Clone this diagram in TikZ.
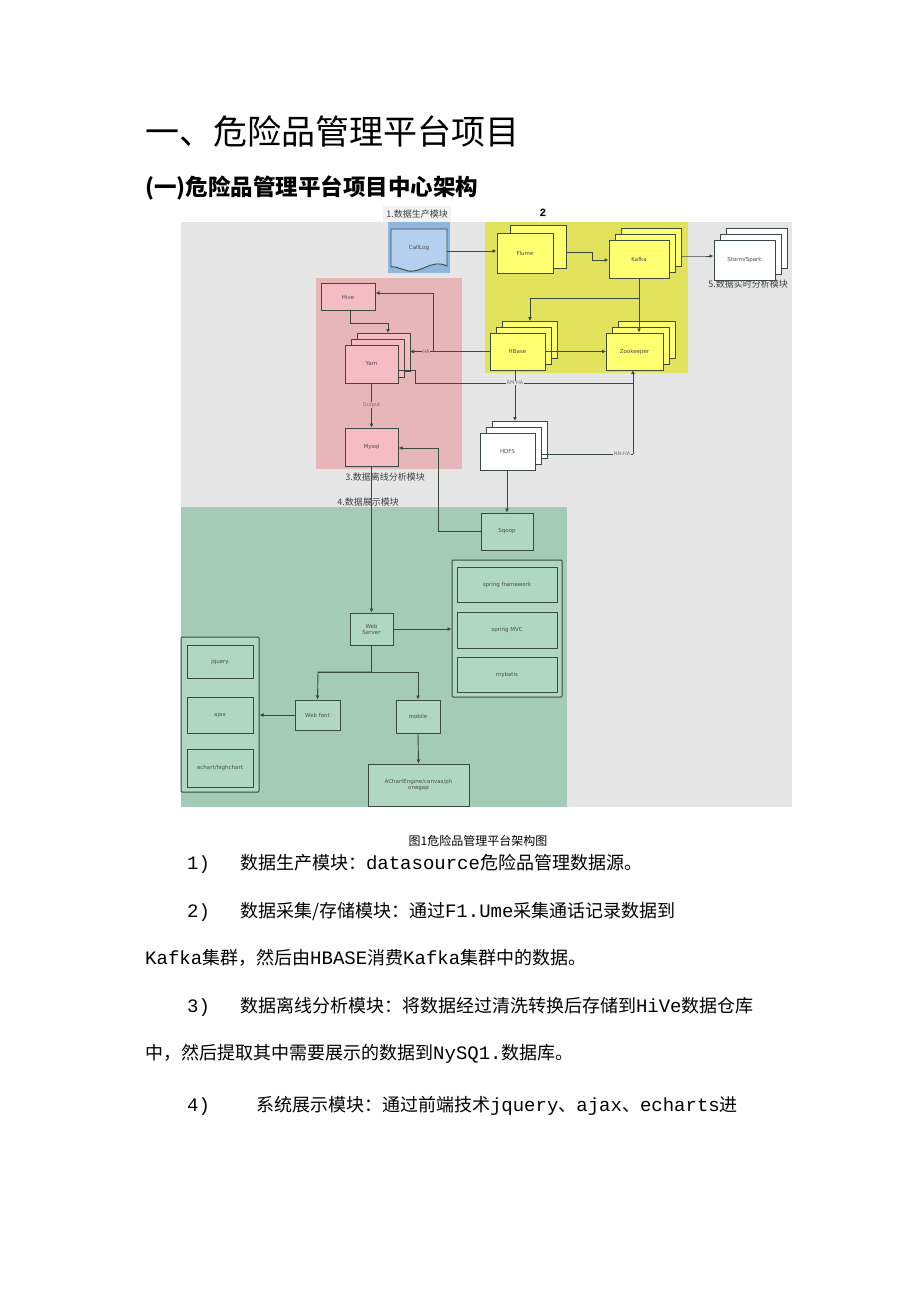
\documentclass[tikz,border=0pt]{standalone}
\usepackage{fontspec}
\setmainfont{Liberation Mono}
\newfontfamily\cjk{Noto Sans CJK SC}
\newfontfamily\monof{Liberation Mono}
\newfontfamily\ds{DejaVu Sans}
\usetikzlibrary{arrows.meta}
\definecolor{bgg}{HTML}{E6E6E6}
\definecolor{yb}{HTML}{E2E25C}
\definecolor{yn}{HTML}{FFFF70}
\definecolor{pb}{HTML}{E6B6B9}
\definecolor{pn}{HTML}{F6BCC4}
\definecolor{gb}{HTML}{A3CBB7}
\definecolor{gn}{HTML}{B0D6C4}
\definecolor{bb}{HTML}{8FB6DC}
\definecolor{bn}{HTML}{B4D0EE}
\definecolor{ln}{HTML}{3A4A40}
\newcommand{\m}[1]{{\monof\fontsize{19}{19}\selectfont #1}}
\begin{document}
\begin{tikzpicture}[x=1pt,y=-1pt,
  box/.style={draw=ln,line width=1pt,inner sep=1pt,font=\ds\fontsize{5.5}{6}\selectfont,align=center,text=black!70},
  arr/.style={draw=ln,line width=0.9pt,-{Latex[length=4pt,width=4pt]}},
  ln0/.style={draw=ln,line width=0.9pt},
  lab/.style={font=\cjk\fontsize{9}{10}\selectfont,text=black!75},
  body/.style={font=\cjk\fontsize{18}{19}\selectfont,anchor=west,inner sep=0}]
\useasboundingbox (0,0) rectangle (920,1301);
\fill[white] (0,0) rectangle (920,1301);
% titles
\node[anchor=west,inner sep=0,font=\cjk\fontsize{34}{34}\selectfont] at (145,132) {一、危险品管理平台项目};
\node[anchor=west,inner sep=0,font=\cjk\bfseries\fontsize{22.5}{23}\selectfont] at (145,188) {(一)危险品管理平台项目中心架构};
% backgrounds
\fill[bgg] (181,222) rectangle (792,807);
\fill[bb] (388,222) rectangle (450,273);
\fill[yb] (485,222) rectangle (688,373);
\fill[pb] (316,278) rectangle (462,469);
\fill[gb] (181,507) rectangle (567,807);
\node[lab,fill=white!90!gray] at (417,214) {1.数据生产模块};
\node[font=\bfseries\fontsize{11}{11}\selectfont,fill=white!90!gray,inner sep=1pt] at (543,213) {2};
\node[lab] at (748,284) {5.数据实时分析模块};
\node[lab] at (385,477) {3.数据离线分析模块};
\node[lab] at (368,502) {4.数据展示模块};
% CallLog
\draw[ln0,fill=bn] (391,229) -- (447,229) -- (447,266) .. controls (430,258) and (420,276) .. (405,270) .. controls (398,268) and (394,266) .. (391,267) -- cycle;
\node[box,draw=none,fill=none] (call) at (419,248) {CallLog};
\coordinate (callR) at (447,251);
% stacked
\draw[ln0,fill=yn] (510,225) rectangle (566,268);
\node[box,fill=yn,minimum width=56,minimum height=40] (flume) at (525,253) {Flume};
\foreach \d in {12,6}{\draw[ln0,fill=yn] (609+\d,240-\d) rectangle (669+\d,278-\d);}
\node[box,fill=yn,minimum width=60,minimum height=38] (kafka) at (639,259) {Kafka};
\foreach \d in {12,6}{\draw[ln0,fill=white] (714+\d,240-\d) rectangle (775+\d,280-\d);}
\node[box,fill=white,minimum width=61,minimum height=40] (storm) at (744.5,260) {Storm/Spark};
\node[box,fill=pn,minimum width=54,minimum height=27] (hive) at (348,297) {Hive};
\foreach \d in {12,6}{\draw[ln0,fill=pn] (345+\d,345-\d) rectangle (398+\d,383-\d);}
\node[box,fill=pn,minimum width=53,minimum height=38] (yarn) at (371.5,364) {Yarn};
\node[box,fill=pn,minimum width=53,minimum height=38] (mysql) at (371.5,447) {Mysql};
\foreach \d in {12,6}{\draw[ln0,fill=yn] (490+\d,333-\d) rectangle (545+\d,370-\d);}
\node[box,fill=yn,minimum width=55,minimum height=37] (hbase) at (517.5,351.5) {HBase};
\foreach \d in {12,6}{\draw[ln0,fill=yn] (606+\d,333-\d) rectangle (663+\d,370-\d);}
\node[box,fill=yn,minimum width=57,minimum height=37] (zk) at (634.5,351.5) {Zookeeper};
\foreach \d in {12,6}{\draw[ln0,fill=white] (480+\d,433-\d) rectangle (535+\d,470-\d);}
\node[box,fill=white,minimum width=55,minimum height=37] (hdfs) at (507.5,451.5) {HDFS};
\node[box,fill=gn,minimum width=52,minimum height=37] (sqoop) at (507,531.5) {Sqoop};
\node[box,fill=gn,minimum width=110,minimum height=137,rounded corners=1pt] (spring) at (507,628.5) {};
\node[box,fill=gn,minimum width=100,minimum height=35] (sf) at (507,584.5) {spring framework};
\node[box,fill=gn,minimum width=100,minimum height=36] (smvc) at (507,630) {spring MVC};
\node[box,fill=gn,minimum width=100,minimum height=35] (mb) at (507,674.5) {mybatis};
\node[box,fill=gn,minimum width=43,minimum height=32] (web) at (371.5,629) {Web\\Server};
\node[box,fill=gn,minimum width=45,minimum height=30] (wf) at (317.5,715) {Web font};
\node[box,fill=gn,minimum width=44,minimum height=33] (mob) at (418,716.5) {mobile};
\node[box,fill=gn,minimum width=101,minimum height=42] (ach) at (418.5,785) {AChartEngine/canvas/ph\\onegap};
\node[box,fill=gn,minimum width=78,minimum height=155,rounded corners=1pt] (left) at (220,714.5) {};
\node[box,fill=gn,minimum width=66,minimum height=33] (jq) at (220,661.5) {jquery};
\node[box,fill=gn,minimum width=66,minimum height=36] (ajax) at (220,715) {ajax};
\node[box,fill=gn,minimum width=66,minimum height=38] (ec) at (220,768) {echart/highchart};
% connectors
\draw[arr] (callR) -- (flume.west |- callR);
\draw[arr] (566,252) -- (592,252) -- (592,260) -- (kafka.west |- 0,260);
\draw[arr] (681,256) -- (702,256) -- (storm.west |- 0,256);
\draw[arr] (kafka.south) -- (zk.north -| kafka.south);
\draw[arr] (640,298) -- (530,298) -- (530,321);
\draw[arr] (hbase.east) -- (606,351.5);
\draw[arr] (hbase.west) -- (410,351.5);
\node[font=\ds\fontsize{5}{5}\selectfont,text=black!60,fill=pb,inner sep=0.5pt] at (426,351.5) {HA};
\draw[arr] (433,351.5) -- (433,293) -- (hive.east |- 0,293);
\draw[arr] (350,310.5) -- (350,323) -- (388,323) -- (388,333);
\draw[ln0] (398,370) -- (415,370) -- (415,383) -- (633,383);
\draw[arr] (633,454) -- (633,370);
\draw[ln0] (541,454) -- (633,454);
\draw[arr] (515,370) -- (515,421);
\node[font=\ds\fontsize{5}{5}\selectfont,text=black!55,fill=bgg,inner sep=0.5pt] at (515,383) {RM-HA};
\node[font=\ds\fontsize{5}{5}\selectfont,text=black!55,fill=bgg,inner sep=0.5pt] at (622,454) {NN-HA};
\draw[arr] (yarn.south) -- (mysql.north);
\node[font=\ds\fontsize{5}{5}\selectfont,text=black!55,fill=pb,inner sep=0.5pt] at (371.5,405) {Output};
\draw[arr] (507,470) -- (sqoop.north);
\draw[arr] (sqoop.west) -- (438,531.5) -- (438,448) -- (mysql.east |- 0,448);
\draw[arr] (mysql.south) -- (web.north);
\draw[arr] (web.east) -- (spring.west |- web.east);
\draw[ln0] (web.south) -- (371.5,672);
\draw[arr] (318,672) -- (418,672) -- (mob.north);
\draw[arr] (371.5,672) -- (318,672) -- (wf.north);
\draw[arr] (wf.west) -- (left.east |- wf.west);
\draw[arr] (mob.south) -- (ach.north);
% caption and text
\node[font=\cjk\fontsize{12}{12}\selectfont] at (478,841) {图1危险品管理平台架构图};
\node[body] at (187,864) {\m{1)}\hspace{30pt}数据生产模块：\m{datasource}危险品管理数据源。};
\node[body] at (187,912) {\m{2)}\hspace{30pt}数据采集/存储模块：通过\m{F1.Ume}采集通话记录数据到};
\node[body] at (145,958) {\m{Kafka}集群，然后由\m{HBASE}消费\m{Kafka}集群中的数据。};
\node[body] at (187,1007) {\m{3)}\hspace{30pt}数据离线分析模块：将数据经过清洗转换后存储到\m{HiVe}数据仓库};
\node[body] at (145,1054) {中，然后提取其中需要展示的数据到\m{NySQ1.}数据库。};
\node[body] at (187,1106) {\m{4)}\hspace{46pt}系统展示模块：通过前端技术\m{jquery}、\m{ajax}、\m{echarts}进};
\end{tikzpicture}
\end{document}
